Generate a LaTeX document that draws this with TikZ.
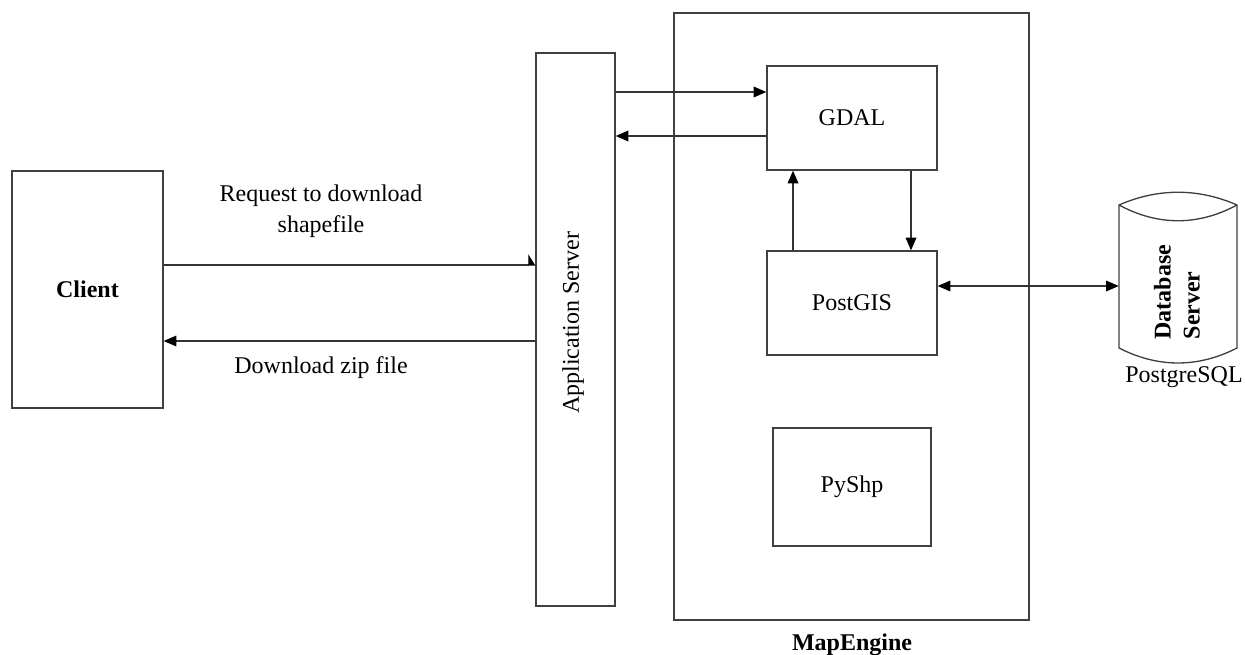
\documentclass[tikz,border=0pt]{standalone}
\usepackage{fontspec}
\setmainfont{Liberation Serif}
\usetikzlibrary{arrows.meta,calc}
\begin{document}
\begin{tikzpicture}[x=0.75pt,y=-0.75pt,
  box/.style={draw=black!75, line width=1pt, shape=rectangle, inner sep=0pt, font=\fontsize{18}{22}\selectfont},
  outline/.style={draw=black!75, line width=1pt},
  conn/.style={draw=black!80, line width=0.9pt},
  tipend/.style={-{Triangle[length=9.5pt,width=8pt,color=black,fill=black]}},
  tipboth/.style={{Triangle[length=9.5pt,width=8pt,color=black,fill=black]}-{Triangle[length=9.5pt,width=8pt,color=black,fill=black]}},
  halftip/.style={-{Triangle[length=5pt,width=16pt,left,color=black,fill=black]}},
  lbl/.style={font=\fontsize{18}{23}\selectfont, align=center, inner sep=0pt}]
\useasboundingbox (0,0) rectangle (1245,655);

% boxes
\node[box, minimum width=113.25pt, minimum height=177.75pt, font=\fontsize{18}{22}\selectfont\bfseries] (client) at (87.5,289.5) {Client};
\node[box, minimum width=59.25pt, minimum height=414.75pt] (app) at (575.5,329.5) {};
\node[lbl, rotate=90] (apptext) at (573,323) {Application Server};
\node[box, minimum width=266.25pt, minimum height=455.25pt] (map) at (851.5,316.5) {};
\node[lbl, font=\fontsize{18}{22}\selectfont\bfseries] (maplabel) at (852,645) {MapEngine};
\node[box, minimum width=127.5pt, minimum height=78pt] (gdal) at (852,118) {GDAL};
\node[box, minimum width=127.5pt, minimum height=78pt] (postgis) at (852,303) {PostGIS};
\node[box, minimum width=118.5pt, minimum height=88.5pt] (pyshp) at (852,487) {PyShp};

% database cylinder
\draw[outline] (1119,205) -- (1119,348) .. controls (1158,368) and (1198,368) .. (1237,348) -- (1237,205) .. controls (1198,188) and (1158,188) .. (1119,205) -- cycle;
\draw[outline] (1119,205) .. controls (1158,226) and (1198,226) .. (1237,205);
\node[inner sep=0pt, minimum width=88.5pt, minimum height=128.25pt] (db) at (1178,277.5) {};
\node[lbl, rotate=90, align=left, font=\fontsize{18}{21.75}\selectfont\bfseries] (dbtext) at (1177,292) {Database\\Server};
\node[lbl] (pg) at (1184,377) {PostgreSQL};

% labels
\node[lbl] (reqlbl) at (321,211) {Request to download\\shapefile};
\node[lbl] (dllbl) at (321,368) {Download zip file};

% connectors
\coordinate (yreq) at (0,265);
\coordinate (ydl) at (0,341);
\coordinate (yg1) at (0,92);
\coordinate (yg2) at (0,136);
\coordinate (xup) at (793,0);
\coordinate (xdn) at (911,0);
\coordinate (ydb) at (0,286);

\draw[conn, halftip] (client.east |- yreq) -- (app.west |- yreq);
\draw[conn, tipend] (app.west |- ydl) -- (client.east |- ydl);
\draw[conn, tipend] (app.east |- yg1) -- (gdal.west |- yg1);
\draw[conn, tipend] (gdal.west |- yg2) -- (app.east |- yg2);
\draw[conn, tipend] (postgis.north -| xup) -- (gdal.south -| xup);
\draw[conn, tipend] (gdal.south -| xdn) -- (postgis.north -| xdn);
\draw[conn, tipboth] (postgis.east |- ydb) -- (db.west |- ydb);
\end{tikzpicture}
\end{document}
